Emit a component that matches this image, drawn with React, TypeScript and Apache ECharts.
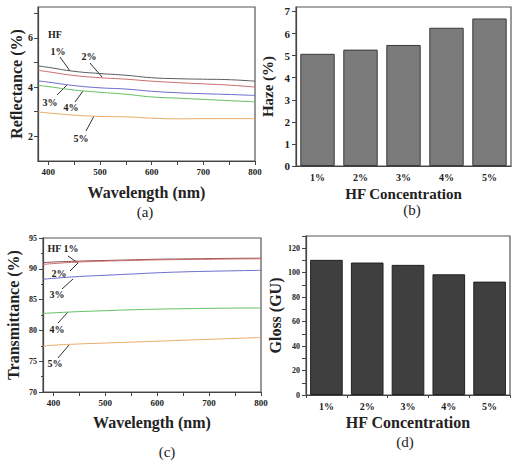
import React, { useEffect, useRef } from "react";
import * as echarts from "echarts";

const wavelengths = [380, 400, 450, 500, 550, 600, 650, 700, 750, 800];
const concentrations = ["1%", "2%", "3%", "4%", "5%"];

const refl1 = [4.86, 4.8, 4.64, 4.55, 4.48, 4.38, 4.34, 4.32, 4.3, 4.24];
const refl2 = [4.68, 4.62, 4.47, 4.38, 4.32, 4.24, 4.18, 4.13, 4.08, 4.0];
const refl3 = [4.25, 4.2, 4.06, 3.97, 3.92, 3.83, 3.77, 3.73, 3.7, 3.66];
const refl4 = [4.07, 4.02, 3.88, 3.79, 3.71, 3.6, 3.55, 3.5, 3.45, 3.4];
const refl5 = [2.99, 2.95, 2.86, 2.81, 2.79, 2.74, 2.71, 2.72, 2.72, 2.72];

const trans1 = [91.0, 91.1, 91.25, 91.35, 91.45, 91.55, 91.6, 91.65, 91.7, 91.72];
const trans2 = [90.7, 90.85, 91.1, 91.25, 91.35, 91.45, 91.5, 91.55, 91.6, 91.62];
const trans3 = [88.3, 88.45, 88.75, 88.95, 89.15, 89.35, 89.5, 89.6, 89.68, 89.75];
const trans4 = [82.75, 82.85, 83.05, 83.2, 83.35, 83.45, 83.52, 83.58, 83.62, 83.65];
const trans5 = [77.45, 77.6, 77.8, 77.95, 78.1, 78.25, 78.4, 78.55, 78.7, 78.85];

const haze = [5.08, 5.27, 5.48, 6.26, 6.68];
const gloss = [110.5, 108.3, 106.4, 98.7, 92.7];

const wlLabels = [400, 500, 600, 700, 800];
const wlTicks = [400, 450, 500, 550, 600, 650, 700, 750, 800];
const reflLabels = [2, 4, 6];
const reflTicks = [2, 3, 4, 5, 6, 7];
const hazeLabels = [0, 1, 2, 3, 4, 5, 6, 7];
const glossLabels = [0, 20, 40, 60, 80, 100, 120];
const glossTicks = [0, 10, 20, 30, 40, 50, 60, 70, 80, 90, 100, 110, 120, 130];

const lineColors = ["#5a5a5a", "#cc6a6a", "#6a6acc", "#62c062", "#e8aa66"];
const FONT = "Liberation Serif, serif";

const pair = (arr: number[]) => wavelengths.map((w, i) => [w, arr[i]]);

export default function App() {
  const ref = useRef<HTMLDivElement>(null);
  useEffect(() => {
    if (!ref.current) return;
    const chart = echarts.init(ref.current, undefined, { renderer: "svg" });
    const axisLine = { show: true, lineStyle: { color: "#444", width: 1.2 } };
    const tick = { show: true, length: 4, lineStyle: { color: "#444" } };
    const lbl = (size: number, margin = 6) => ({
      fontFamily: FONT,
      fontWeight: "bold" as const,
      fontSize: size,
      color: "#222",
      margin,
    });
    const nameStyle = (size: number) => ({
      fontFamily: FONT,
      fontWeight: "bold" as const,
      fontSize: size,
      color: "#222",
    });
    const gridBase = { show: true, borderColor: "#555", borderWidth: 1.2, backgroundColor: "#fff" };

    const reflSeries = [refl1, refl2, refl3, refl4, refl5].map((d, i) => ({
      type: "line",
      xAxisIndex: 0,
      yAxisIndex: 0,
      data: pair(d),
      smooth: true,
      showSymbol: false,
      lineStyle: { color: lineColors[i], width: 1 },
    }));
    const transSeries = [trans1, trans2, trans3, trans4, trans5].map((d, i) => ({
      type: "line",
      xAxisIndex: 2,
      yAxisIndex: 2,
      data: pair(d),
      smooth: true,
      showSymbol: false,
      lineStyle: { color: i === 0 ? "#8a4a4a" : lineColors[i], width: 1 },
    }));

    const txt = (x: number, y: number, text: string, size = 10, bold = true) => ({
      type: "text",
      x,
      y,
      style: {
        text,
        fill: "#222",
        fontFamily: FONT,
        fontWeight: bold ? "bold" : "normal",
        fontSize: size,
        align: "center",
        verticalAlign: "middle",
      },
    });
    const ln = (x1: number, y1: number, x2: number, y2: number) => ({
      type: "line",
      shape: { x1, y1, x2, y2 },
      style: { stroke: "#333", lineWidth: 1 },
    });

    chart.setOption({
      animation: false,
      grid: [
        { ...gridBase, left: 38, top: 7, width: 217, height: 154 },
        { ...gridBase, left: 296, top: 7, width: 215, height: 159 },
        { ...gridBase, left: 43, top: 238, width: 218, height: 154 },
        { ...gridBase, left: 306, top: 236, width: 204, height: 159 },
      ],
      xAxis: [
        {
          type: "value",
          gridIndex: 0,
          min: 380,
          max: 800,
          name: "Wavelength (nm)",
          nameLocation: "middle",
          nameGap: 23,
          nameTextStyle: nameStyle(16),
          axisLine,
          axisTick: { ...tick, customValues: wlTicks },
          axisLabel: { ...lbl(9, 6), customValues: wlLabels },
          splitLine: { show: false },
        },
        {
          type: "category",
          gridIndex: 1,
          data: concentrations,
          name: "HF Concentration",
          nameLocation: "middle",
          nameGap: 20,
          nameTextStyle: nameStyle(15),
          axisLine,
          axisTick: { show: false },
          axisLabel: lbl(10, 6),
        },
        {
          type: "value",
          gridIndex: 2,
          min: 380,
          max: 800,
          name: "Wavelength (nm)",
          nameLocation: "middle",
          nameGap: 22,
          nameTextStyle: nameStyle(16),
          axisLine,
          axisTick: { ...tick, customValues: wlTicks },
          axisLabel: { ...lbl(9, 6), customValues: wlLabels },
          splitLine: { show: false },
        },
        {
          type: "category",
          gridIndex: 3,
          data: concentrations,
          name: "HF Concentration",
          nameLocation: "middle",
          nameGap: 19,
          nameTextStyle: nameStyle(16),
          axisLine,
          axisTick: { ...tick, length: 3 },
          axisLabel: lbl(10, 6),
        },
      ],
      yAxis: [
        {
          type: "value",
          gridIndex: 0,
          min: 1,
          max: 7.25,
          name: "Reflectance (%)",
          nameLocation: "middle",
          nameGap: 14,
          nameTextStyle: nameStyle(16),
          axisLine,
          axisTick: { ...tick, customValues: reflTicks },
          axisLabel: { ...lbl(10, 5), customValues: reflLabels },
          splitLine: { show: false },
        },
        {
          type: "value",
          gridIndex: 1,
          min: 0,
          max: 7.2,
          name: "Haze (%)",
          nameLocation: "middle",
          nameGap: 21,
          nameTextStyle: nameStyle(15),
          axisLine,
          axisTick: { ...tick, customValues: hazeLabels },
          axisLabel: { ...lbl(11, 6), customValues: hazeLabels },
          splitLine: { show: false },
        },
        {
          type: "value",
          gridIndex: 2,
          min: 70,
          max: 95,
          interval: 5,
          name: "Transmittance (%)",
          nameLocation: "middle",
          nameGap: 22,
          nameTextStyle: nameStyle(16),
          axisLine,
          axisTick: tick,
          minorTick: { show: true, splitNumber: 2, length: 2, lineStyle: { color: "#444" } },
          axisLabel: lbl(8, 6),
          splitLine: { show: false },
        },
        {
          type: "value",
          gridIndex: 3,
          min: 0,
          max: 130,
          name: "Gloss (GU)",
          nameLocation: "middle",
          nameGap: 23,
          nameTextStyle: nameStyle(16),
          axisLine,
          axisTick: { ...tick, customValues: glossTicks },
          axisLabel: { ...lbl(8, 6), customValues: glossLabels },
          splitLine: { show: false },
        },
      ],
      series: [
        ...reflSeries,
        {
          type: "bar",
          xAxisIndex: 1,
          yAxisIndex: 1,
          data: haze,
          barWidth: "80%",
          itemStyle: { color: "#7b7b7b", borderColor: "#3a3a3a", borderWidth: 1 },
        },
        ...transSeries,
        {
          type: "bar",
          xAxisIndex: 3,
          yAxisIndex: 3,
          data: gloss,
          barWidth: "80%",
          itemStyle: { color: "#3f3f3f", borderColor: "#222", borderWidth: 1 },
        },
      ],
      graphic: [
        txt(55, 34, "HF", 10),
        txt(58, 51, "1%", 10),
        ln(60, 57, 70, 71),
        txt(89, 56, "2%", 10),
        ln(90, 63, 102, 77),
        txt(50, 102, "3%", 10),
        ln(57, 95, 67, 85),
        txt(71, 107, "4%", 10),
        ln(75, 102, 83, 91),
        txt(81, 138, "5%", 10),
        ln(86, 131, 94, 116),
        txt(63, 248, "HF 1%", 10),
        ln(68, 256, 78, 263),
        txt(59, 273, "2%", 10),
        ln(70, 271, 78, 263),
        txt(57, 294, "3%", 10),
        ln(62, 289, 73, 279),
        txt(57, 329, "4%", 10),
        ln(58, 323, 68, 312),
        txt(55, 363, "5%", 10),
        ln(58, 358, 69, 345),
        txt(145, 212, "(a)", 15, false),
        txt(412, 210, "(b)", 15, false),
        txt(167, 452, "(c)", 15, false),
        txt(405, 442, "(d)", 15, false),
      ],
    });
    return () => chart.dispose();
  }, []);
  return (
    <div
      ref={ref}
      style={{ position: "absolute", left: 0, top: 0, width: 516, height: 460, background: "#fff" }}
    />
  );
}
